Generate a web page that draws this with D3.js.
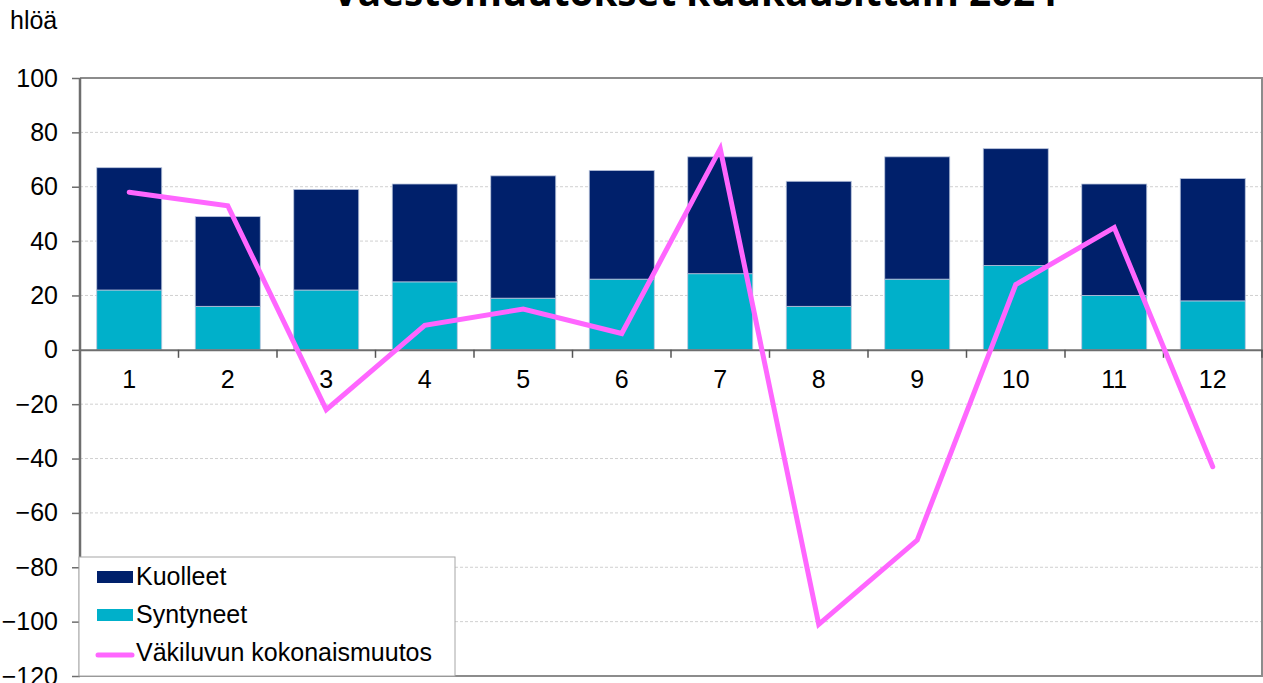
<!DOCTYPE html>
<html>
<head>
<meta charset="utf-8">
<script src="https://cdn.jsdelivr.net/npm/d3@7"></script>
<style>
  html, body { margin: 0; padding: 0; background: #fff; }
  svg { display: block; }
</style>
</head>
<body>
<svg id="chart" width="1263" height="683"></svg>
<script>
// ---- data ----
const months = ["1","2","3","4","5","6","7","8","9","10","11","12"];
const syntyneet = [22, 16, 22, 25, 19, 26, 28, 16, 26, 31, 20, 18];
const kuolleet  = [45, 33, 37, 36, 45, 40, 43, 46, 45, 43, 41, 45];
const muutos    = [58, 53, -22, 9, 15, 6, 74, -101, -70, 24, 45, -43];
const yTicks = [-120, -100, -80, -60, -40, -20, 0, 20, 40, 60, 80, 100];
const title = "Väestömuutokset kuukausittain 2024";
const yUnit = "hlöä";
const legendLabels = ["Kuolleet", "Syntyneet", "Väkiluvun kokonaismuutos"];

// ---- layout ----
const svg = d3.select("#chart");
const L = 80, R = 1262, T = 78, B = 676;
const font = "'Liberation Sans', Arial, sans-serif";
const fs = 25;
const cDark = "#00206b", cLight = "#00b0ca", cLine = "#ff66ff";

const x = d3.scaleBand().domain(months).range([L, R]).paddingInner(0.34).paddingOuter(0.17);
const y = d3.scaleLinear().domain([-120, 100]).range([B, T]);

// gridlines
svg.append("g").selectAll("line").data(yTicks.filter(t => t !== 0 && t !== 100 && t !== -120)).join("line")
  .attr("x1", L).attr("x2", R).attr("y1", d => y(d)).attr("y2", d => y(d))
  .attr("stroke", "#d0d0d0").attr("stroke-width", 1).attr("stroke-dasharray", "3,2");

// plot border (top/right/bottom)
svg.append("path")
  .attr("d", `M${L},${T}H${R}V${B}H${L}`)
  .attr("fill", "none").attr("stroke", "#8c8c8c").attr("stroke-width", 2);

// stacked bars
const stack = d3.stack().keys(["s", "k"])(months.map((m, i) => ({ m, s: syntyneet[i], k: kuolleet[i] })));
const colors = { s: cLight, k: cDark };
svg.append("g").selectAll("g").data(stack).join("g")
  .attr("fill", d => colors[d.key])
  .selectAll("rect").data(d => d).join("rect")
  .attr("x", d => x(d.data.m))
  .attr("width", x.bandwidth())
  .attr("y", d => y(d[1]))
  .attr("height", d => y(d[0]) - y(d[1]))
  .attr("stroke", "#b8c4dc").attr("stroke-width", 0.8);

// x axis at zero
const xAxis = d3.axisBottom(x).tickSize(0).tickFormat(d => d);
const gx = svg.append("g").attr("transform", `translate(0,${y(0)})`).call(xAxis);
gx.select(".domain").attr("stroke", "#6e6e6e").attr("stroke-width", 2);
gx.selectAll("text").attr("font-family", font).attr("font-size", fs).attr("fill", "#000").attr("dy", null).attr("y", 38);
// category separator ticks
svg.append("g").selectAll("line").data(months.slice(1).concat(["end"])).join("line")
  .attr("x1", (d, i) => L + (i + 1) * x.step()).attr("x2", (d, i) => L + (i + 1) * x.step())
  .attr("y1", y(0)).attr("y2", y(0) + 8)
  .attr("stroke", "#555").attr("stroke-width", 1.5);

// y axis
const yAxis = d3.axisLeft(y).tickValues(yTicks).tickSize(8).tickPadding(14);
const gy = svg.append("g").attr("transform", `translate(${L},0)`).call(yAxis);
gy.select(".domain").attr("stroke", "#6e6e6e").attr("stroke-width", 2.5).attr("d", `M0,${T}V${B}`);
gy.selectAll(".tick line").attr("stroke", "#6e6e6e").attr("stroke-width", 1.5);
gy.selectAll("text").attr("font-family", font).attr("font-size", fs).attr("fill", "#000");

// line
const line = d3.line().x((d, i) => x(months[i]) + x.bandwidth() / 2).y(d => y(d));
svg.append("path").datum(muutos)
  .attr("d", line).attr("fill", "none")
  .attr("stroke", cLine).attr("stroke-width", 5).attr("stroke-linejoin", "miter").attr("stroke-linecap", "round");

// legend
const lg = svg.append("g");
lg.append("rect").attr("x", 79).attr("y", 557).attr("width", 376).attr("height", 119)
  .attr("fill", "#fff").attr("stroke", "#a6a6a6").attr("stroke-width", 1);
const rows = [585, 623, 661];
lg.append("rect").attr("x", 97).attr("y", 571).attr("width", 36).attr("height", 12).attr("fill", cDark);
lg.append("rect").attr("x", 97).attr("y", 609).attr("width", 36).attr("height", 12).attr("fill", cLight);
lg.append("line").attr("x1", 98).attr("x2", 132).attr("y1", 655).attr("y2", 655)
  .attr("stroke", cLine).attr("stroke-width", 5).attr("stroke-linecap", "round");
lg.selectAll("text").data(legendLabels).join("text")
  .attr("x", 136).attr("y", (d, i) => rows[i])
  .attr("font-family", font).attr("font-size", fs).attr("fill", "#000").text(d => d);

// unit label
svg.append("text").attr("x", 10).attr("y", 29).attr("font-family", font).attr("font-size", fs).text(yUnit);

// title
const tt = svg.append("text").attr("x", 695).attr("y", 6).attr("text-anchor", "middle")
  .attr("font-family", "'Open Sans', 'Liberation Sans', sans-serif").attr("font-weight", 700)
  .attr("font-size", 34).text(title);
const w = tt.node().getComputedTextLength();
tt.attr("font-size", 34 * 725 / w);
</script>
</body>
</html>
